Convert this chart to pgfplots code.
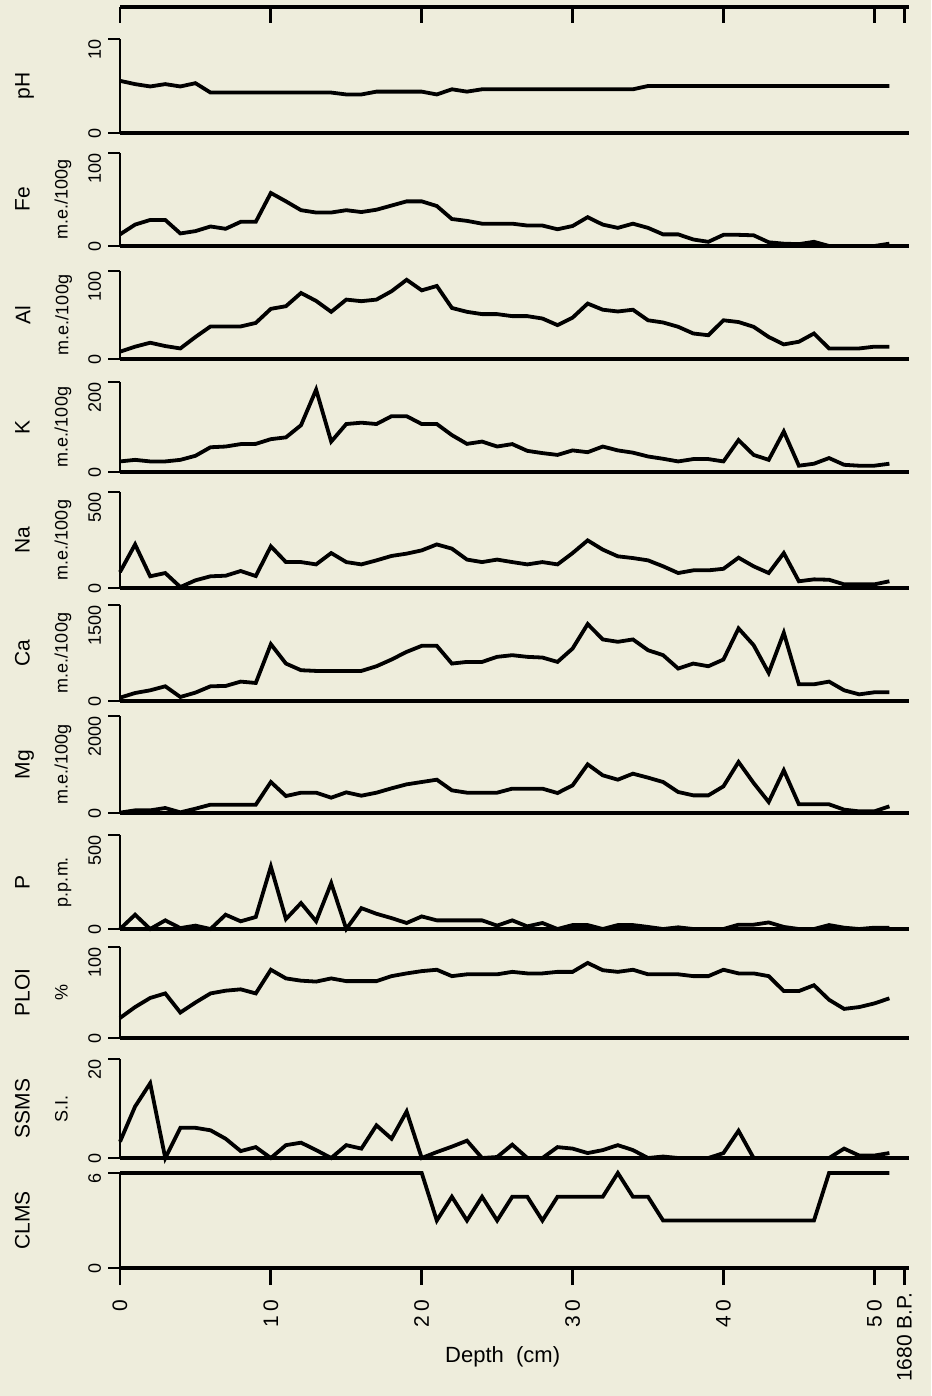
\documentclass[border=0pt]{standalone}
\usepackage{fontspec}
\setmainfont{Liberation Sans}
\usepackage{pgfplots}
\usepackage{pgfplotstable}
\pgfplotsset{compat=1.18}
\definecolor{paper}{RGB}{238,237,220}

% depth profile, one row per cm
\pgfplotstableread{
depth pH Fe Al K Na Ca Mg P PLOI SSMS CLMS
0 5.55 12.5 8.3 23.5 83 52 7 0 22 3.3 6
1 5.2 23 14 27 227 125 55 76 34 10.4 6
2 4.95 28 18.5 23.5 61 167 55 0 44 15.1 6
3 5.2 28 14.7 23.5 78 230 103 46 49 0 6
4 4.95 13.5 12 27 5 63 14 5 28 6.1 6
5 5.3 16 25 36 40 131 89 18 39 6.1 6
6 4.3 21 37 55 61 230 172 0 49 5.6 6
7 4.3 18.5 37 56.6 64 235 172 76 52 3.9 6
8 4.3 26 37 62 88.5 303 172 41 53.5 1.4 6
9 4.3 26 41 62.5 62.5 282 172 64 49 2.2 6
10 4.3 57 57 73 217 888 639 332 75 0 6
11 4.3 48 60 77 135 585 350 53 65.5 2.6 6
12 4.3 38.5 75 104 135 481 419 138 63 3.1 6
13 4.3 36 66 183 123 470 419 41 62 1.6 6
14 4.3 36 53.6 67.6 182 470 316 244 65.5 0 6
15 4.1 38.5 67.5 106.6 135 470 426 0 62.5 2.6 6
16 4.1 36.5 65.7 109.6 123 470 357 111 62.5 1.9 6
17 4.4 39 67.5 106.6 144 543 419 81 62.5 6.6 6
18 4.4 43.5 77 124 167 648 509 58 68 3.9 6
19 4.4 48 90 124 179 768 591 32 71 9.4 6
20 4.4 48 78 106.6 196 862 639 67 73.5 0 6
21 4.1 43 83 106.6 227 862 687 46 75 1.2 3
22 4.65 29 58 82 205 585 467 46 68 2.3 4.5
23 4.4 27 53.6 62.5 148 611 419 46 70 3.5 3
24 4.65 24 51 67.6 135 611 419 46 70 0 4.5
25 4.65 24 51 56.6 148 690 419 18 70 0.2 3
26 4.65 24 48.7 62 135 716 502 46 72.7 2.7 4.5
27 4.65 22 48.7 47 123 690 502 14 71 0 4.5
28 4.65 22 46 42 135 679 502 32 71 0 3
29 4.65 18 38.5 38 123 611 412 0 72.7 2.2 4.5
30 4.65 21.5 47 48 182 820 570 21 72.7 1.9 4.5
31 4.65 31 63 44 248 1202 1003 21 82.5 1.0 4.5
32 4.65 23 56 56.6 200 962 777 0 74.5 1.6 4.5
33 4.65 19.5 54 48 165 925 687 21 72.7 2.6 6
34 4.65 24 56 43 156 962 811 21 75 1.6 4.5
35 5.0 19.5 44 34.5 144 794 729 11 70 0 4.5
36 5.0 12.5 41.5 29.4 113 716 639 0 70 0.3 3
37 5.0 12.5 36.6 23.5 78 507 433 9 70 0 3
38 5.0 7 29 28.7 92 585 364 0 68 0 3
39 5.0 4.5 27 28.7 92 543 364 0 68 0 3
40 5.0 12 44 23.5 100 648 550 0 75 1.0 3
41 5.0 12 42 71 158 1134 1052 23 71 5.5 3
42 5.0 11.5 36.6 38 113 873 619 23 71 0 3
43 5.0 4 25 27 78 439 227 35 68 0 3
44 5.0 2.5 16.6 90 182 1066 880 11 51.6 0 3
45 5.0 2 19.6 14 35 261 179 0 51.6 0 3
46 5.0 4.5 29 18.4 45 261 179 0 58 0 3
47 5.0 0 12 31 43 303 179 21 42 0 6
48 5.0 0 12 16 19 167 69 7 32 1.9 6
49 5.0 0 12 14 19 104 34 0 34 0.5 6
50 5.0 0 14 14 19 136 34 7 38 0.5 6
51 5.0 2.5 14 18.4 35 136 137 7 43.6 1.0 6
}\soil

\newcommand\unitfont{\fontsize{9}{10}\selectfont}

\pgfplotsset{
  panel/.style={
    scale only axis, width=394.5pt,
    xmin=0, xmax=52.3, ymin=0, clip=false,
    axis x line*=bottom, axis y line*=left,
    axis line style={-},
    x axis line style={-, line width=1.8pt},
    y axis line style={-, line width=1.4pt},
    xtick=\empty,
    ytick={0}, yticklabels={0},
    tick align=outside, major tick length=6pt,
    every tick/.style={black, line width=1.4pt},
    yticklabel style={rotate=90, anchor=south, inner xsep=0pt,
      font=\fontsize{9}{10}\selectfont},
    extra y tick style={yticklabel style={anchor=south east}},
    ylabel style={at={([xshift=-56pt]axis description cs:0,0.5)},
      anchor=north, align=center, font=\fontsize{10.5}{12}\selectfont},
  },
  dl/.style={black, line width=1.9pt, mark=none},
}

\newcommand\panel[5]{%
  \begin{axis}[panel, at={(60pt,#1)}, anchor=south west, height=#2,
      ymax=#3, extra y ticks={#3}, extra y tick labels={#3}, ylabel={#4}]
    \addplot[dl] table[x=depth, y=#5] {\soil};
  \end{axis}}

\begin{document}
\begin{tikzpicture}
\path[use as bounding box, fill=paper] (0,0) rectangle (465.5pt,-698pt);

% top scale
\begin{axis}[scale only axis, width=394.5pt, height=8pt,
    at={(60pt,-11.5pt)}, anchor=south west,
    xmin=0, xmax=52.3, ymin=0, ymax=1,
    axis x line*=top, axis y line=none,
    axis line style={-}, x axis line style={-, line width=1.8pt},
    xtick={0,10,20,30,40,50,52}, xticklabels={},
    tick align=inside, major tick length=8pt,
    every tick/.style={black, line width=1.4pt}]
\end{axis}

\panel{-66.5pt}{47pt}{10}{pH}{pH}
\panel{-123pt}{46.5pt}{100}{Fe\\[7pt]{\unitfont m.e./100g}}{Fe}
\panel{-179.5pt}{44pt}{100}{Al\\[7pt]{\unitfont m.e./100g}}{Al}
\panel{-236pt}{45pt}{200}{K\\[7pt]{\unitfont m.e./100g}}{K}
\panel{-294pt}{48pt}{500}{Na\\[7pt]{\unitfont m.e./100g}}{Na}
\panel{-350.5pt}{48pt}{1500}{Ca\\[7pt]{\unitfont m.e./100g}}{Ca}
\panel{-406.5pt}{48.5pt}{2000}{Mg\\[7pt]{\unitfont m.e./100g}}{Mg}
\panel{-464.5pt}{47pt}{500}{P\\[7pt]{\unitfont p.p.m.}}{P}
\panel{-519pt}{45.5pt}{100}{PLOI\\[7pt]{\unitfont \%}}{PLOI}
\panel{-579pt}{49.5pt}{20}{SSMS\\[7pt]{\unitfont S.I.}}{SSMS}
\panel{-634pt}{47.5pt}{6}{CLMS}{CLMS}

% depth scale below the last panel
\begin{axis}[scale only axis, width=394.5pt, height=47.5pt,
    at={(60pt,-634pt)}, anchor=south west,
    xmin=0, xmax=52.3, ymin=0, ymax=1,
    axis x line*=bottom, axis y line=none,
    axis line style={-}, x axis line style={-, line width=1.8pt},
    xtick={0,10,20,30,40,50},
    xticklabels={0,1\hspace{2.5pt}0,2\hspace{2.5pt}0,3\hspace{2.5pt}0,4\hspace{2.5pt}0,5\hspace{2.5pt}0},
    extra x ticks={52}, extra x tick labels={1680 B.P.},
    extra x tick style={xticklabel style={inner xsep=3.5pt}},
    tick align=outside, major tick length=8.5pt,
    every tick/.style={black, line width=1.4pt},
    xticklabel style={rotate=90, anchor=east, inner xsep=7pt,
      font=\fontsize{10.5}{12}\selectfont},
    xlabel={Depth\ \ (cm)},
    xlabel style={at={(axis description cs:0.485,0)}, anchor=north,
      yshift=-39pt, inner sep=0pt, font=\fontsize{11}{13}\selectfont}]
\end{axis}
\end{tikzpicture}
\end{document}
